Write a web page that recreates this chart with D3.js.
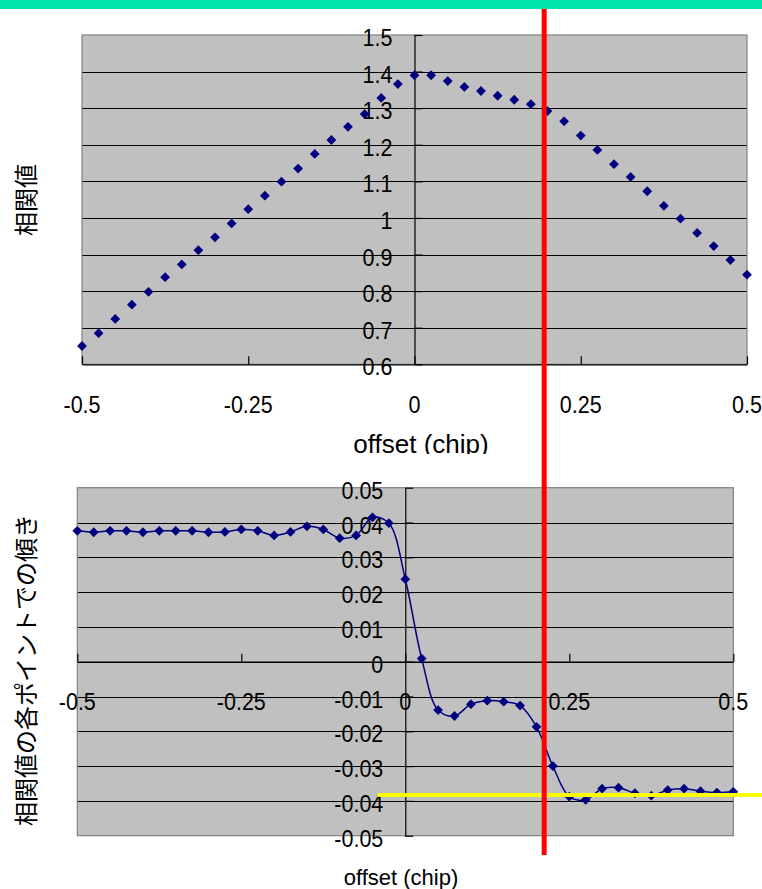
<!DOCTYPE html>
<html>
<head>
<meta charset="utf-8">
<script src="https://cdn.jsdelivr.net/npm/d3@7"></script>
<style>
  body { margin: 0; background: #fff; }
  svg { display: block; font-family: "Liberation Sans", Arial, "Noto Sans CJK JP", sans-serif; }
</style>
</head>
<body>
<div class="canvas"></div>
<script>
// Data
const offsets = [-0.5, -0.475, -0.45, -0.425, -0.4, -0.375, -0.35, -0.325, -0.3, -0.275,
    -0.25, -0.225, -0.2, -0.175, -0.15, -0.125, -0.1, -0.075, -0.05, -0.025,
    0, 0.025, 0.05, 0.075, 0.1, 0.125, 0.15, 0.175, 0.2, 0.225,
    0.25, 0.275, 0.3, 0.325, 0.35, 0.375, 0.4, 0.425, 0.45, 0.475, 0.5];

const corrValues = [0.650, 0.685, 0.724, 0.763, 0.798, 0.838, 0.873, 0.912, 0.947, 0.985,
    1.024, 1.061, 1.099, 1.135, 1.175, 1.213, 1.249, 1.284, 1.328, 1.366,
    1.390, 1.390, 1.374, 1.358, 1.347, 1.334, 1.323, 1.311, 1.292, 1.264,
    1.225, 1.186, 1.147, 1.112, 1.073, 1.033, 0.998, 0.959, 0.923, 0.885, 0.845];

const slopeValues = [0.0376, 0.0372, 0.0376, 0.0376, 0.0372, 0.0376, 0.0376, 0.0376, 0.0372, 0.0373,
    0.0380, 0.0376, 0.0363, 0.0373, 0.0389, 0.0380, 0.0355, 0.0363, 0.0415, 0.0398,
    0.0237, 0.0009, -0.0139, -0.0156, -0.0122, -0.0112, -0.0115, -0.0126, -0.0187, -0.0300,
    -0.0388, -0.0397, -0.0365, -0.0362, -0.0378, -0.0385, -0.0369, -0.0365, -0.0372, -0.0376, -0.0374];

const xTicks = [-0.5, -0.25, 0, 0.25, 0.5];
const corrTicks = [0.6, 0.7, 0.8, 0.9, 1, 1.1, 1.2, 1.3, 1.4, 1.5];
const slopeTicks = [-0.05, -0.04, -0.03, -0.02, -0.01, 0, 0.01, 0.02, 0.03, 0.04, 0.05];

// annotation markers (in chart units)
const redLineOffset = 0.195;     // on the upper chart's x scale
const yellowLevel = -0.0383;     // on the lower chart's y scale
const yellowStart = -0.042;

// Variables
const width = 762, height = 889;
const topPlot = { left: 82, top: 35, right: 747, bottom: 364.3 };
const botPlot = { left: 77.3, top: 487.7, right: 733.3, bottom: 835.7 };
const navy = '#000080';

const svg = d3.select('.canvas')
    .append('svg')
    .attr('width', width)
    .attr('height', height);

svg.append('rect').attr('width', width).attr('height', height).attr('fill', '#fff');

// scales
const xTop = d3.scaleLinear().domain([-0.5, 0.5]).range([topPlot.left, topPlot.right]);
const yTop = d3.scaleLinear().domain([0.6, 1.5]).range([topPlot.bottom, topPlot.top]);
const xBot = d3.scaleLinear().domain([-0.5, 0.5]).range([botPlot.left, botPlot.right]);
const yBot = d3.scaleLinear().domain([-0.05, 0.05]).range([botPlot.bottom, botPlot.top]);

const diamond = d3.symbol().type(d3.symbolSquare).size(48);

function drawPlot(g, x, y, yTicks, crossY) {
    const [x0, x1] = x.range();
    const [y0, y1] = y.range();

    // plot area
    g.append('rect')
        .attr('x', x0).attr('y', y1)
        .attr('width', x1 - x0).attr('height', y0 - y1)
        .attr('fill', '#c0c0c0');

    // gridlines (inner ones only)
    g.selectAll('line.grid')
        .data(yTicks.slice(1, -1))
        .enter().append('line')
        .attr('class', 'grid')
        .attr('x1', x0).attr('x2', x1)
        .attr('y1', d => Math.round(y(d)) + 0.5)
        .attr('y2', d => Math.round(y(d)) + 0.5)
        .attr('stroke', '#000')
        .attr('stroke-width', 1);

    // border
    g.append('rect')
        .attr('x', x0).attr('y', y1)
        .attr('width', x1 - x0).attr('height', y0 - y1)
        .attr('fill', 'none')
        .attr('stroke', '#808080')
        .attr('stroke-width', 1.2);

    // axes
    const xAxis = d3.axisTop(x).tickValues(xTicks).tickSize(8).tickSizeOuter(0).tickFormat('');
    g.append('g')
        .attr('transform', `translate(0,${y(crossY)})`)
        .call(xAxis)
        .call(a => a.selectAll('path,line').attr('stroke', '#000').attr('stroke-width', 1.2));

    const yAxis = d3.axisRight(y).tickValues(yTicks).tickSize(8).tickSizeOuter(0).tickFormat('');
    g.append('g')
        .attr('transform', `translate(${x(0)},0)`)
        .call(yAxis)
        .call(a => a.selectAll('path,line').attr('stroke', '#000').attr('stroke-width', 1.2));

    // tick labels (Excel renders these slightly tall)
    g.selectAll('text.ylab')
        .data(yTicks)
        .enter().append('text')
        .attr('class', 'ylab')
        .attr('transform', d => `translate(${x(0) - 22},${y(d) + 11}) scale(1,1.1)`)
        .attr('text-anchor', 'end')
        .style('font-size', '21.5px')
        .text(d => String(d));

    g.selectAll('text.xlab')
        .data(xTicks)
        .enter().append('text')
        .attr('class', 'xlab')
        .attr('transform', d => `translate(${x(d)},${y(crossY) + 48.5}) scale(1,1.1)`)
        .attr('text-anchor', 'middle')
        .style('font-size', '21.5px')
        .text(d => String(d));
}

// Upper chart: correlation value
const gTop = svg.append('g');
drawPlot(gTop, xTop, yTop, corrTicks, 0.6);

gTop.selectAll('path.pt')
    .data(offsets)
    .enter().append('path')
    .attr('class', 'pt')
    .attr('d', diamond)
    .attr('transform', (d, i) => `translate(${xTop(d)},${yTop(corrValues[i])}) rotate(45)`)
    .attr('fill', navy);

gTop.append('text')
    .attr('x', 421).attr('y', 453)
    .attr('text-anchor', 'middle')
    .style('font-size', '26px')
    .text('offset (chip)');

gTop.append('text')
    .attr('transform', 'translate(26,200) rotate(-90)')
    .attr('text-anchor', 'middle')
    .attr('dominant-baseline', 'central')
    .style('font-size', '24px')
    .text('相関値');

// Lower chart region covers the bottom of the upper one
const gBot = svg.append('g');
gBot.append('rect').attr('x', 0).attr('y', 454).attr('width', width).attr('height', height - 454).attr('fill', '#fff');
drawPlot(gBot, xBot, yBot, slopeTicks, 0);

const line = d3.line()
    .x(d => xBot(d))
    .y((d, i) => yBot(slopeValues[i]))
    .curve(d3.curveCatmullRom.alpha(0.5));

gBot.append('path')
    .datum(offsets)
    .attr('d', line)
    .attr('fill', 'none')
    .attr('stroke', navy)
    .attr('stroke-width', 1.5);

gBot.selectAll('path.pt')
    .data(offsets)
    .enter().append('path')
    .attr('class', 'pt')
    .attr('d', diamond)
    .attr('transform', (d, i) => `translate(${xBot(d)},${yBot(slopeValues[i])}) rotate(45)`)
    .attr('fill', navy);

gBot.append('text')
    .attr('x', 401).attr('y', 885)
    .attr('text-anchor', 'middle')
    .style('font-size', '22px')
    .text('offset (chip)');

gBot.append('text')
    .attr('transform', 'translate(26,670) rotate(-90)')
    .attr('text-anchor', 'middle')
    .attr('dominant-baseline', 'central')
    .style('font-size', '24px')
    .text('相関値の各ポイントでの傾き');

// Header band and annotation lines
svg.append('rect')
    .attr('x', 0).attr('y', 0)
    .attr('width', width).attr('height', 9)
    .attr('fill', '#00e4aa');

svg.append('line')
    .attr('x1', xBot(yellowStart)).attr('x2', width)
    .attr('y1', yBot(yellowLevel)).attr('y2', yBot(yellowLevel))
    .attr('stroke', '#ffff00')
    .attr('stroke-width', 4);

svg.append('line')
    .attr('x1', xTop(redLineOffset)).attr('x2', xTop(redLineOffset))
    .attr('y1', 9).attr('y2', 855)
    .attr('stroke', '#ff0000')
    .attr('stroke-width', 5);
</script>
</body>
</html>
